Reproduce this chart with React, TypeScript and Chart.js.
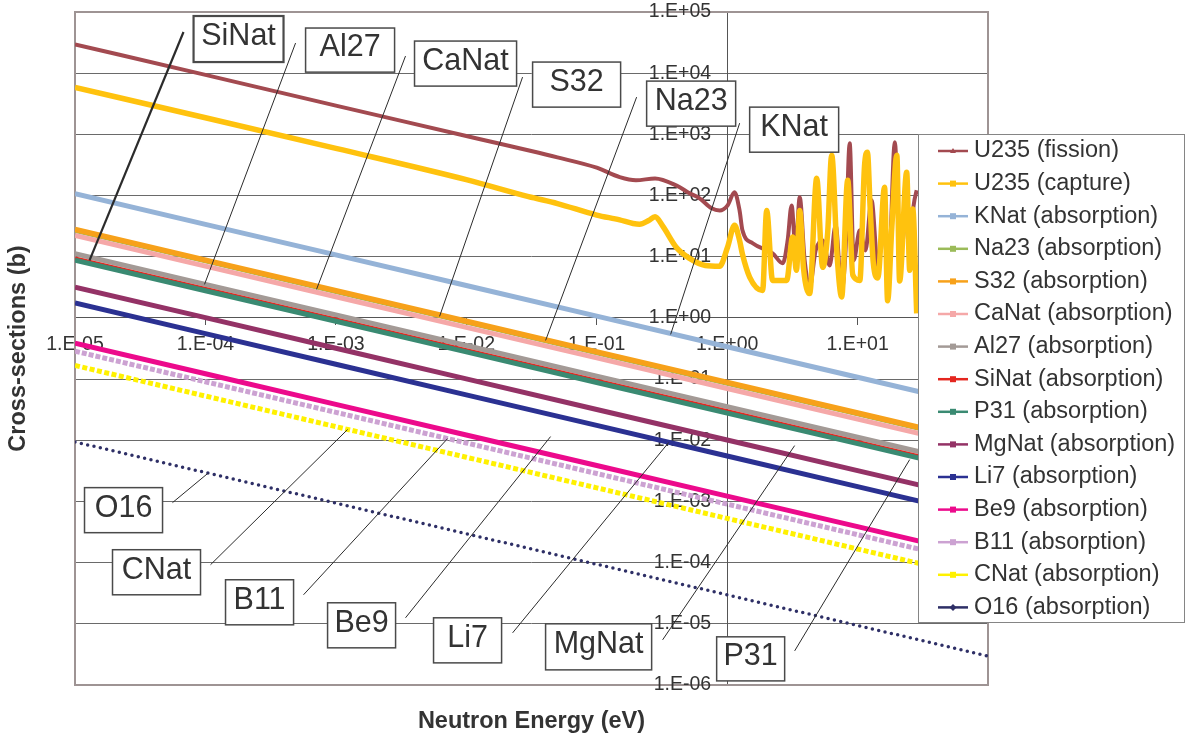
import React, { useEffect, useRef } from "react";
import { Chart, registerables } from "chart.js";

Chart.register(...registerables);

const FONT = "'Liberation Sans', Arial, Helvetica, sans-serif";

// ---------- data ----------
const energyGrid = [1e-5, 1e-4, 1e-3, 1e-2, 1e-1, 1, 10, 100];

const kNatAbs = [107, 33.8, 10.7, 3.38, 1.07, 0.338, 0.107, 0.0338];
const na23Abs = [27.0, 8.54, 2.7, 0.854, 0.27, 0.0854, 0.027, 0.00854];
const s32Abs = [27.9, 8.82, 2.79, 0.882, 0.279, 0.0882, 0.0279, 0.00882];
const caNatAbs = [22.2, 7.02, 2.22, 0.702, 0.222, 0.0702, 0.0222, 0.00702];
const al27Abs = [11.2, 3.54, 1.12, 0.354, 0.112, 0.0354, 0.0112, 0.00354];
const siNatAbs = [9.24, 2.92, 0.924, 0.292, 0.0924, 0.0292, 0.00924, 0.00292];
const p31Abs = [8.8, 2.78, 0.88, 0.278, 0.088, 0.0278, 0.0088, 0.00278];
const mgNatAbs = [3.19, 1.01, 0.319, 0.101, 0.0319, 0.0101, 0.00319, 0.00101];
const li7Abs = [1.75, 0.553, 0.175, 0.0553, 0.0175, 0.00553, 0.00175, 0.000553];
const be9Abs = [0.387, 0.122, 0.0387, 0.0122, 0.00387, 0.00122, 0.000387, 0.000122];
const b11Abs = [0.286, 0.0904, 0.0286, 0.00904, 0.00286, 0.000904, 0.000286, 0.0000904];
const cNatAbs = [0.167, 0.0528, 0.0167, 0.00528, 0.00167, 0.000528, 0.000167, 0.0000528];
const o16Abs = [0.0094, 0.00297, 0.00094, 0.000297, 0.000094, 0.0000297, 0.0000094, 0.00000297];

const u235FissionE = [
  1e-5, 1e-4, 1e-3, 1e-2, 0.05, 0.1, 0.15, 0.2, 0.28, 0.41, 0.515, 0.615, 0.76, 0.875,
  1.007, 1.14, 1.245, 1.31, 1.57, 2.23, 2.67, 2.91, 3.12, 3.35, 3.6, 3.93, 4.29, 4.77,
  5.4, 6.11, 6.79, 7.55, 8.09, 8.7, 9.33, 10.4, 11.5, 12.8, 14.3, 15.8, 17.3, 19.3, 21.0,
  23.0, 25.1, 26.9, 28.4,
];
const u235Fission = [
  29600, 9400, 2950, 940, 420, 285, 200, 178, 190, 145, 109, 90, 62, 57,
  69, 113, 57, 27, 16.6, 11.4, 7.8, 18.5, 69, 12.7, 94, 8.7, 3.15, 12.7,
  18.5, 7.2, 32.6, 2.82, 12.7, 718, 8.7, 27, 12.7, 84, 7.2, 27, 6.0, 745, 18.5,
  57, 12.7, 69, 122,
];

const u235CaptureE = [
  1e-5, 1e-4, 1e-3, 1e-2, 0.03, 0.05, 0.1, 0.15, 0.19, 0.213, 0.25, 0.28, 0.32, 0.41,
  0.515, 0.68, 0.875, 1.007, 1.14, 1.245, 1.31, 1.49, 1.87, 2.01, 2.23, 2.86, 3.18, 3.4,
  3.6, 3.85, 4.29, 4.86, 5.4, 5.9, 6.33, 7.0, 7.55, 8.4, 9.2, 10.4, 11.3, 11.9, 12.5, 13.2,
  14.3, 16.1, 17.0, 18.3, 20.0, 21.0, 23.8, 25.1, 26.5, 28.4,
];
const u235Capture = [
  5860, 1870, 590, 182, 96, 74, 48, 40, 35, 34, 39, 45, 32, 14,
  9.4, 7.2, 7.0, 14.3, 32.6, 18.5, 11, 4.6, 2.8, 57, 4.1, 4.1, 21, 6.0,
  57, 6.5, 2.5, 192, 6.7, 25, 457, 9, 2.2, 178, 5.0, 4.1, 300, 512, 60, 8,
  4.5, 137, 1.9, 30, 457, 4.0, 240, 6.0, 60, 1.19,
];

const seriesNames = [
  "U235 (fission)", "U235 (capture)", "KNat (absorption)", "Na23 (absorption)",
  "S32 (absorption)", "CaNat (absorption)", "Al27 (absorption)", "SiNat (absorption)",
  "P31 (absorption)", "MgNat (absorption)", "Li7 (absorption)", "Be9 (absorption)",
  "B11 (absorption)", "CNat (absorption)", "O16 (absorption)",
];

const absorptionValues = [
  kNatAbs, na23Abs, s32Abs, caNatAbs, al27Abs, siNatAbs, p31Abs,
  mgNatAbs, li7Abs, be9Abs, b11Abs, cNatAbs, o16Abs,
];

const xTickValues = [1e-5, 1e-4, 1e-3, 1e-2, 1e-1, 1, 10, 100];
const xTickLabels = ["1.E-05", "1.E-04", "1.E-03", "1.E-02", "1.E-01", "1.E+00", "1.E+01", "1.E+02"];
const yTickValues = [1e-6, 1e-5, 1e-4, 1e-3, 1e-2, 1e-1, 1, 1e1, 1e2, 1e3, 1e4, 1e5];
const yTickLabels = [
  "1.E-06", "1.E-05", "1.E-04", "1.E-03", "1.E-02", "1.E-01",
  "1.E+00", "1.E+01", "1.E+02", "1.E+03", "1.E+04", "1.E+05",
];

// ---------- styles ----------
const seriesStyles = [
  { color: "#A34A50", width: 4, marker: "triangle" },
  { color: "#FFC20E", width: 5.5, marker: "square" },
  { color: "#95B3D7", width: 5, marker: "square" },
  { color: "#9BBB59", width: 5, marker: "square" },
  { color: "#F7A11A", width: 5.5, marker: "square" },
  { color: "#F5A8A8", width: 5, marker: "square" },
  { color: "#A39A96", width: 5, marker: "square" },
  { color: "#E4261F", width: 5, marker: "square" },
  { color: "#3A8A72", width: 5, marker: "square" },
  { color: "#943266", width: 5, marker: "square" },
  { color: "#2B3192", width: 5, marker: "square" },
  { color: "#EC0A8C", width: 5, marker: "square" },
  { color: "#CCA2D2", width: 5, marker: "square", dash: [5, 2] },
  { color: "#FFF100", width: 5, marker: "square", dash: [5, 2.5] },
  { color: "#2E2F66", width: 3.5, marker: "diamond", dash: [0, 6.5], cap: "round" },
];

// annotation callouts, anchored in data coordinates (energy eV, cross-section b)
const callouts = [
  { text: "SiNat", box: [8.11e-5, 86000, 3.97e-4, 15200], from: [6.79e-5, 47100], to: [1.292e-5, 8.73], lw: 2.2 },
  { text: "Al27", box: [5.86e-4, 54700, 2.82e-3, 10400], from: [4.91e-4, 31100], to: [9.84e-5, 3.53], lw: 1 },
  { text: "CaNat", box: [4.01e-3, 33500, 0.0243, 6150], from: [3.42e-3, 19050], to: [7.11e-4, 2.93], lw: 1 },
  { text: "S32", box: [0.03224, 15200, 0.1525, 2787], from: [0.027, 8635], to: [6.24e-3, 1.058], lw: 1 },
  { text: "Na23", box: [0.2414, 7425, 1.162, 1362], from: [0.2023, 4062], to: [0.04055, 0.4283], lw: 1 },
  { text: "KNat", box: [1.488, 2787, 7.16, 511], from: [1.247, 1525], to: [0.3687, 0.537], lw: 1 },
  { text: "O16", box: [1.183e-5, 1.682e-3, 4.69e-5, 3.087e-4], from: [5.59e-5, 9.56e-4], to: [1.038e-4, 2.851e-3], lw: 1 },
  { text: "CNat", box: [1.939e-5, 1.626e-4, 9.17e-5, 2.982e-5], from: [1.094e-4, 9.24e-5], to: [1.229e-3, 0.01497], lw: 1 },
  { text: "B11", box: [1.426e-4, 5.25e-5, 4.74e-4, 9.63e-6], from: [5.65e-4, 2.982e-5], to: [7.19e-3, 0.01066], lw: 1 },
  { text: "Be9", box: [8.64e-4, 2.207e-5, 2.87e-3, 4.05e-6], from: [3.42e-3, 1.254e-5], to: [0.0443, 0.0115], lw: 1 },
  { text: "Li7", box: [5.61e-3, 1.254e-5, 0.01865, 2.3e-6], from: [0.02265, 7.12e-6], to: [0.3558, 9.17e-3], lw: 1 },
  { text: "MgNat", box: [0.04055, 1.0e-5, 0.2637, 1.767e-6], from: [0.3201, 5.47e-6], to: [3.293, 8.19e-3], lw: 1 },
  { text: "P31", box: [0.831, 6.13e-6, 2.76, 1.167e-6], from: [3.293, 3.61e-6], to: [25.09, 4.83e-3], lw: 1 },
];

function buildDatasets() {
  const sets: any[] = [];
  const count = seriesNames.length;
  const mk = (i: number, pts: { x: number; y: number }[], smooth: boolean) => {
    const st: any = seriesStyles[i];
    return {
      label: seriesNames[i],
      data: pts,
      borderColor: st.color,
      backgroundColor: st.color,
      borderWidth: st.width,
      borderDash: st.dash || [],
      borderCapStyle: st.cap || "butt",
      borderJoinStyle: "round",
      pointRadius: 0,
      pointHoverRadius: 0,
      fill: false,
      cubicInterpolationMode: smooth ? "monotone" : "default",
      tension: 0,
      order: count - i,
    };
  };
  sets.push(mk(0, u235FissionE.map((e, k) => ({ x: e, y: u235Fission[k] })), true));
  sets.push(mk(1, u235CaptureE.map((e, k) => ({ x: e, y: u235Capture[k] })), true));
  absorptionValues.forEach((vals, j) => {
    sets.push(mk(j + 2, energyGrid.map((e, k) => ({ x: e, y: vals[k] })), false));
  });
  return sets;
}

const framePlugin = {
  id: "plotFrame",
  beforeDatasetsDraw(chart: any) {
    const { ctx, chartArea: a } = chart;
    const xs = chart.scales.x;
    const ys = chart.scales.y;
    ctx.save();
    ctx.strokeStyle = "#9E9494";
    ctx.lineWidth = 2;
    ctx.strokeRect(a.left, a.top, a.right - a.left, a.bottom - a.top);
    // y tick labels, placed next to the y axis (which crosses at x = 1 eV)
    const axisX = xs.getPixelForValue(1);
    ctx.fillStyle = "#333333";
    ctx.font = `19.5px ${FONT}`;
    ctx.textAlign = "right";
    ctx.textBaseline = "middle";
    yTickValues.forEach((v, i) => {
      ctx.fillText(yTickLabels[i], axisX - 16, ys.getPixelForValue(v));
    });
    ctx.restore();
  },
};

const calloutPlugin = {
  id: "callouts",
  afterDatasetsDraw(chart: any) {
    const { ctx } = chart;
    const xs = chart.scales.x;
    const ys = chart.scales.y;
    ctx.save();
    callouts.forEach((c) => {
      const fx = xs.getPixelForValue(c.from[0]);
      const fy = ys.getPixelForValue(c.from[1]);
      const tx = xs.getPixelForValue(c.to[0]);
      const ty = ys.getPixelForValue(c.to[1]);
      ctx.strokeStyle = "#2b2b2b";
      ctx.lineWidth = c.lw;
      ctx.beginPath();
      ctx.moveTo(fx, fy);
      ctx.lineTo(tx, ty);
      ctx.stroke();

      const x1 = xs.getPixelForValue(c.box[0]);
      const y1 = ys.getPixelForValue(c.box[1]);
      const x2 = xs.getPixelForValue(c.box[2]);
      const y2 = ys.getPixelForValue(c.box[3]);
      ctx.fillStyle = "#ffffff";
      ctx.fillRect(x1, y1, x2 - x1, y2 - y1);
      ctx.strokeStyle = "#4a4a4a";
      ctx.lineWidth = c.lw > 1.5 ? 2.2 : 1.5;
      ctx.strokeRect(x1, y1, x2 - x1, y2 - y1);
      ctx.fillStyle = "#333333";
      ctx.font = `30.5px ${FONT}`;
      ctx.textAlign = "center";
      ctx.textBaseline = "middle";
      ctx.fillText(c.text, (x1 + x2) / 2, (y1 + y2) / 2 - 2);
    });
    ctx.restore();
  },
};

const legendPlugin = {
  id: "boxLegend",
  afterDraw(chart: any) {
    const { ctx, chartArea: a } = chart;
    const left = a.right - 70;
    const top = 134;
    const right = 1185;
    const bottom = 623;
    ctx.save();
    ctx.fillStyle = "#ffffff";
    ctx.fillRect(left, top, right - left, bottom - top);
    ctx.strokeStyle = "#858585";
    ctx.lineWidth = 1;
    ctx.strokeRect(left + 0.5, top + 0.5, right - left - 1, bottom - top - 1);
    seriesNames.forEach((name, i) => {
      const st: any = seriesStyles[i];
      const y = 151 + i * 32.6;
      const lx1 = left + 20;
      const lx2 = left + 50;
      const mx = (lx1 + lx2) / 2;
      ctx.strokeStyle = st.color;
      ctx.lineWidth = 2.5;
      ctx.setLineDash([]);
      ctx.beginPath();
      ctx.moveTo(lx1, y);
      ctx.lineTo(lx2, y);
      ctx.stroke();
      ctx.fillStyle = st.color;
      if (st.marker === "triangle") {
        ctx.beginPath();
        ctx.moveTo(mx, y - 3);
        ctx.lineTo(mx + 3, y + 2);
        ctx.lineTo(mx - 3, y + 2);
        ctx.closePath();
        ctx.fill();
      } else if (st.marker === "diamond") {
        ctx.beginPath();
        ctx.moveTo(mx, y - 3.5);
        ctx.lineTo(mx + 3.5, y);
        ctx.lineTo(mx, y + 3.5);
        ctx.lineTo(mx - 3.5, y);
        ctx.closePath();
        ctx.fill();
      } else {
        ctx.fillRect(mx - 3, y - 3, 6, 6);
      }
      ctx.fillStyle = "#333333";
      ctx.font = `23.5px ${FONT}`;
      ctx.textAlign = "left";
      ctx.textBaseline = "middle";
      ctx.fillText(name, left + 56, y);
    });
    ctx.restore();
  },
};

const titlePlugin = {
  id: "axisTitles",
  afterDraw(chart: any) {
    const { ctx, chartArea: a } = chart;
    ctx.save();
    ctx.fillStyle = "#333333";
    ctx.font = `bold 23.5px ${FONT}`;
    ctx.textAlign = "center";
    ctx.textBaseline = "middle";
    ctx.fillText("Neutron Energy (eV)", (a.left + a.right) / 2, 722);
    ctx.translate(19, (a.top + a.bottom) / 2);
    ctx.rotate(-Math.PI / 2);
    ctx.fillText("Cross-sections (b)", 0, 0);
    ctx.restore();
  },
};

export default function App() {
  const canvasRef = useRef<HTMLCanvasElement | null>(null);

  useEffect(() => {
    if (!canvasRef.current) return;
    const chart = new Chart(canvasRef.current, {
      type: "line",
      data: { datasets: buildDatasets() },
      options: {
        responsive: true,
        maintainAspectRatio: false,
        animation: false,
        parsing: true,
        layout: { padding: { left: 75, top: 12, right: 200, bottom: 52 } },
        plugins: {
          legend: { display: false },
          tooltip: { enabled: false },
        },
        events: [],
        scales: {
          x: {
            type: "logarithmic",
            min: 1e-5,
            max: 100,
            position: { y: 1 } as any,
            afterBuildTicks: (scale: any) => {
              scale.ticks = xTickValues.map((v) => ({ value: v }));
            },
            grid: {
              drawOnChartArea: false,
              drawTicks: true,
              tickLength: 7,
              color: "#555555",
              lineWidth: 1,
            },
            border: { display: true, color: "#555555", width: 1 },
            ticks: {
              autoSkip: false,
              maxRotation: 0,
              minRotation: 0,
              padding: 8,
              color: "#333333",
              font: { family: FONT, size: 19.5 },
              callback: (_v: any, idx: number) => xTickLabels[idx],
            },
          },
          y: {
            type: "logarithmic",
            min: 1e-6,
            max: 1e5,
            position: { x: 1 } as any,
            afterBuildTicks: (scale: any) => {
              scale.ticks = yTickValues.map((v) => ({ value: v }));
            },
            grid: {
              drawOnChartArea: true,
              drawTicks: true,
              tickLength: 7,
              color: "#6A6A6A",
              lineWidth: 1,
            },
            border: { display: true, color: "#555555", width: 1 },
            ticks: {
              display: false,
              padding: 0,
              autoSkip: false,
            },
          },
        },
      },
      plugins: [framePlugin, calloutPlugin, legendPlugin, titlePlugin],
    } as any);
    return () => chart.destroy();
  }, []);

  return (
    <div style={{ position: "absolute", left: 0, top: 0, width: 1188, height: 737 }}>
      <canvas ref={canvasRef} />
    </div>
  );
}
